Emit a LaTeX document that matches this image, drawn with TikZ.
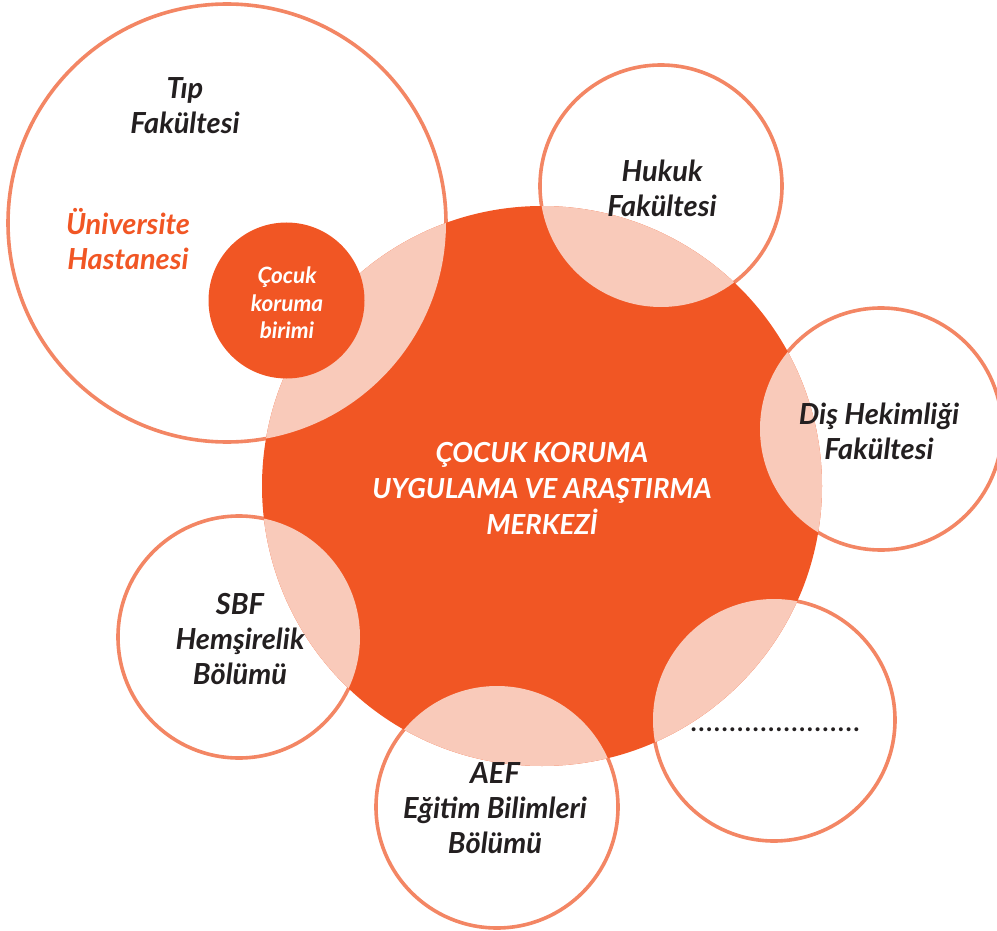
\documentclass[tikz,border=0pt]{standalone}
\usepackage{fontspec}
\setmainfont{Lato}
\definecolor{coreorange}{HTML}{F15624}
\definecolor{overlap}{HTML}{F9CABA}
\definecolor{ringline}{HTML}{F38664}
\definecolor{ink}{HTML}{231F20}
\tikzset{
  ring/.style={draw=ringline, line width=3.6pt},
  unitlabel/.style={font=\fontsize{29}{35}\selectfont\bfseries\itshape,
    text=ink, align=center, inner sep=0pt},
  corelabel/.style={font=\fontsize{27.6}{36}\selectfont\bfseries\itshape,
    text=white, align=center, inner sep=0pt},
  sublabel/.style={font=\fontsize{22.5}{27.5}\selectfont\bfseries\itshape,
    text=white, align=center, inner sep=0pt},
}
\begin{document}
\begin{tikzpicture}[x=1pt, y=-1pt]
\useasboundingbox (0,0) rectangle (997,931);
\begin{scope}
\clip (0,0) rectangle (997,931);
% outer unit rings
\path[ring] (227,223) circle (219);
\path[ring] (661,186) circle (121);
\path[ring] (881,429) circle (121);
\path[ring] (239,637) circle (121);
\path[ring] (497,807) circle (121);
\path[ring] (774,720) circle (121);
% central centre disc
\fill[coreorange] (542,486) circle (280);
% lighter overlaps between the centre and each unit
\foreach \cx/\cy/\r in {227/223/219, 661/186/121, 881/429/121,
                        239/637/121, 497/807/121, 774/720/121} {
  \begin{scope}
    \clip (\cx,\cy) circle (\r);
    \fill[overlap] (542,486) circle (280);
  \end{scope}
}
% child protection unit inside the hospital
\fill[coreorange] (286.5,300.5) circle (78);
\end{scope}

% labels
\node[unitlabel] (tip) at (185,106) {Tıp\\Fakültesi};
\node[unitlabel, text=coreorange] (hastane) at (128,239) {Üniversite\\Hastanesi};
\node[sublabel] (birim) at (287,303) {Çocuk\\koruma\\birimi};
\node[unitlabel] (hukuk) at (662,188) {Hukuk\\Fakültesi};
\node[corelabel] (merkez) at (542,488) {ÇOCUK KORUMA\\UYGULAMA VE ARAŞTIRMA\\MERKEZİ};
\node[unitlabel] (dis) at (879,431) {Diş Hekimliği\\Fakültesi};
\node[unitlabel] (sbf) at (240,639) {SBF\\Hemşirelik\\Bölümü};
\node[unitlabel] (aef) at (495,808) {AEF\\Eğitim Bilimleri\\Bölümü};
\node[unitlabel, anchor=base, font=\fontsize{26}{30}\selectfont\bfseries\addfontfeature{LetterSpace=6}] (diger) at (775,731) {......................};
\end{tikzpicture}
\end{document}
